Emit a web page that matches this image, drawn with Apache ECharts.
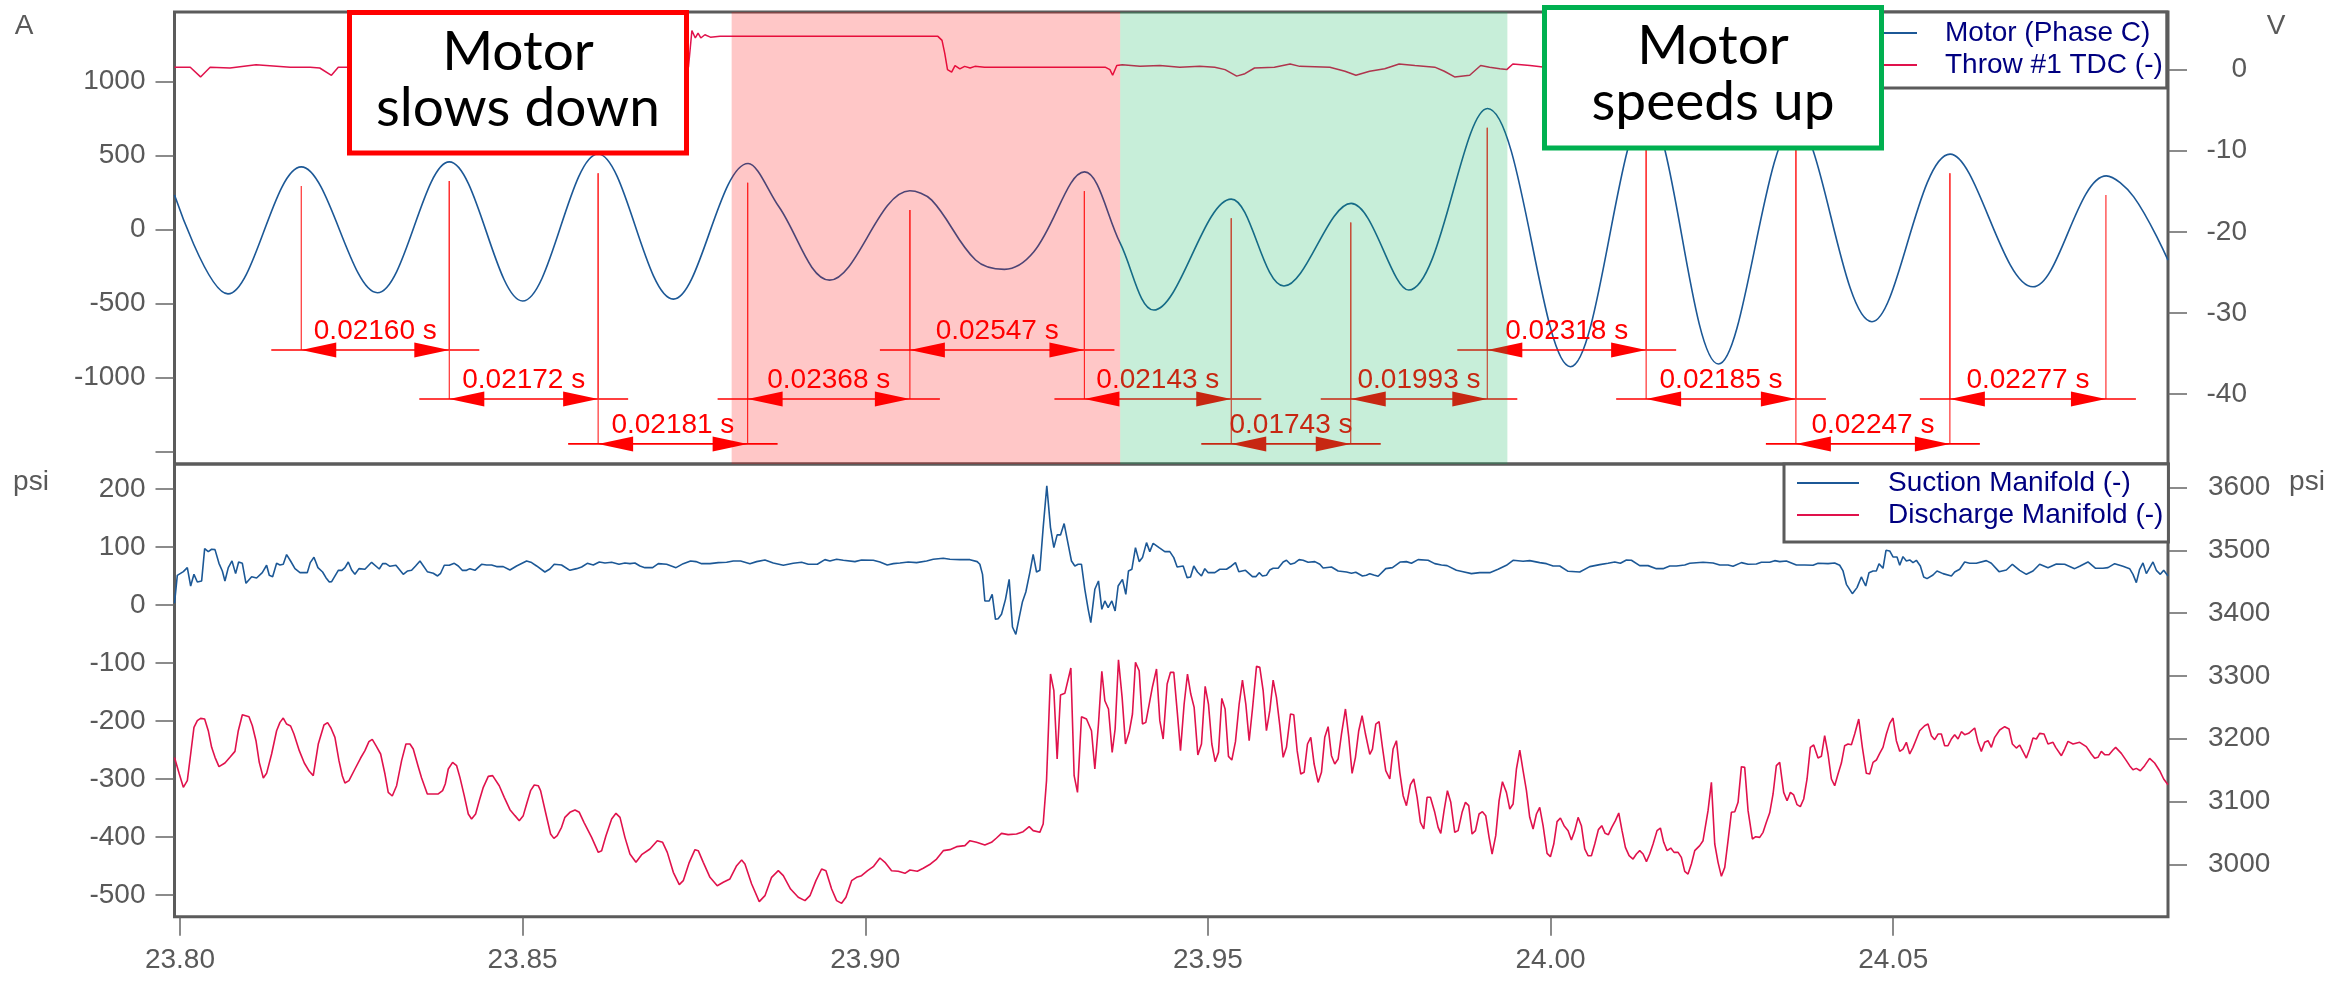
<!DOCTYPE html>
<html>
<head>
<meta charset="utf-8">
<script src="https://cdn.jsdelivr.net/npm/echarts@6/dist/echarts.min.js"></script>
<style>
html,body{margin:0;padding:0;background:#fff;}
#chart{width:2351px;height:983px;}
</style>
</head>
<body>
<div id="chart"></div>
<script>
// ---- time axis ----
const timeRange = [23.7992, 24.0901];
const timeTicks = [23.80, 23.85, 23.90, 23.95, 24.00, 24.05];

// ---- axis ticks ----
const ampTicks = [-1500, -1000, -500, 0, 500, 1000];
const ampLabels = [-1000, -500, 0, 500, 1000];
const voltTicks = [-40, -30, -20, -10, 0];
const suctionTicks = [-500, -400, -300, -200, -100, 0, 100, 200];
const dischargeTicks = [3000, 3100, 3200, 3300, 3400, 3500, 3600];

// ---- motor current, phase C [s, A] ----
const motorCurrent = [
[23.7992,232],[23.8070,-436],[23.8177,423],[23.8288,-428],[23.8393,457],[23.8500,-484],[23.8610,510],[23.8720,-471],
[23.8829,446],[23.8874,153],[23.8948,-343],[23.9065,261],[23.9097,198],[23.9161,-207],[23.9203,-270],[23.9246,-151],
[23.9320,389],[23.9372,-93],[23.9421,-545],[23.9534,205],[23.9611,-383],[23.9709,176],[23.9793,-410],[23.9908,818],
[24.0029,-928],[24.0140,800],[24.0245,-910],[24.0358,720],[24.0469,-624],[24.0583,509],[24.0704,-388],[24.0811,362],
[24.0851,220],[24.0901,-208]
];

// ---- throw #1 TDC signal [s, V] ----
const tdcVolts = [
[23.7992,0.3],[23.8015,0.3],[23.8030,-0.9],[23.8044,0.3],[23.8073,0.2],[23.8111,0.6],[23.8161,0.3],[23.8190,0.3],
[23.8204,0.2],[23.8221,-0.7],[23.8231,0.3],[23.8500,0.3],[23.8742,0.3],[23.8747,4.8],[23.8752,3.9],[23.8756,4.5],
[23.8760,3.9],[23.8766,4.3],[23.8774,4.0],[23.8788,4.1],[23.9106,4.1],[23.9112,3.6],[23.9116,2.0],[23.9120,0.0],
[23.9126,-0.3],[23.9131,0.5],[23.9138,0.1],[23.9145,0.4],[23.9153,0.2],[23.9160,0.4],[23.9174,0.3],[23.9350,0.3],
[23.9357,0.0],[23.9361,-0.7],[23.9367,0.5],[23.9375,0.6],[23.9401,0.4],[23.9430,0.5],[23.9459,0.3],[23.9488,0.4],
[23.9510,0.3],[23.9525,0.0],[23.9542,-0.8],[23.9554,-0.5],[23.9568,0.2],[23.9597,0.3],[23.9620,0.7],[23.9634,0.4],
[23.9678,0.3],[23.9700,-0.2],[23.9716,-0.7],[23.9736,-0.2],[23.9758,0.1],[23.9779,0.7],[23.9802,0.5],[23.9831,0.3],
[23.9845,-0.2],[23.9860,-0.9],[23.9882,-0.7],[23.9898,0.5],[23.9911,0.3],[23.9926,0.1],[23.9936,0.0],[23.9945,0.7],
[23.9970,0.5],[23.9992,0.3],[24.0300,0.3],[24.0600,0.3],[24.0901,0.3]
];

// ---- suction manifold [s, psi] ----
const suctionPsi = [
[23.7992,3],[23.79961,51.2],[23.80049,57.5],[23.80107,64.4],[23.80156,32.8],[23.80204,52.9],[23.80253,39.7],[23.80316,41.5],
[23.8036,97.2],[23.80413,92.0],[23.80462,96.1],[23.80511,95.5],[23.80569,71.9],[23.80618,58.7],[23.80656,41.5],[23.80705,64.4],
[23.80759,75.9],[23.80812,54.1],[23.80856,74.2],[23.8091,71.9],[23.80963,37.4],[23.81046,48.9],[23.81118,46.6],[23.81201,55.8],
[23.81264,68.5],[23.81303,51.2],[23.81352,48.9],[23.8141,71.9],[23.81459,69.0],[23.81507,70.2],[23.81556,86.9],[23.81614,75.9],
[23.81678,62.7],[23.81751,55.8],[23.81858,55.8],[23.81901,73.1],[23.81955,82.3],[23.82013,64.4],[23.82081,56.9],[23.8213,47.2],
[23.82179,39.7],[23.82213,40.3],[23.8231,59.8],[23.82363,59.8],[23.82407,64.4],[23.82456,74.2],[23.82505,60.4],[23.82553,52.9],
[23.82612,62.7],[23.82699,61.6],[23.82796,73.6],[23.82908,62.1],[23.82957,71.3],[23.83005,71.3],[23.83064,66.7],[23.83151,68.5],
[23.83258,52.9],[23.83322,58.7],[23.8338,59.8],[23.83438,67.3],[23.83502,75.9],[23.83609,57.5],[23.83696,54.7],[23.83759,50.1],
[23.83803,54.7],[23.83857,68.5],[23.8393,68.5],[23.84003,71.9],[23.84061,67.3],[23.84119,59.8],[23.84182,59.8],[23.84231,62.7],
[23.84304,59.8],[23.84401,70.2],[23.84474,69.0],[23.84547,69.0],[23.8462,66.2],[23.84717,66.2],[23.84815,60.4],[23.84912,67.3],
[23.85058,75.9],[23.85131,73.1],[23.85204,67.3],[23.85325,56.9],[23.85398,62.1],[23.85461,70.2],[23.85568,69.0],[23.8569,59.8],
[23.85788,62.7],[23.85861,65.6],[23.85944,71.9],[23.86031,69.0],[23.86119,74.2],[23.86202,72.5],[23.86299,73.6],[23.86406,70.2],
[23.86493,72.5],[23.86566,71.3],[23.86639,72.5],[23.86712,67.3],[23.86785,64.4],[23.86897,64.4],[23.8698,71.3],[23.87101,70.2],
[23.87238,64.4],[23.87344,71.3],[23.87451,75.9],[23.87529,74.8],[23.87612,71.3],[23.87734,71.3],[23.87855,73.1],[23.87977,73.6],
[23.88074,75.9],[23.88181,75.9],[23.88317,71.3],[23.88414,74.8],[23.88536,77.7],[23.88658,72.5],[23.88804,68.5],[23.88949,71.9],
[23.89071,73.6],[23.89168,70.2],[23.893,70.2],[23.89411,78.2],[23.89484,75.9],[23.89582,78.8],[23.89679,77.1],[23.89849,74.8],
[23.89946,77.7],[23.90117,77.1],[23.90214,74.2],[23.90321,69.0],[23.90409,71.3],[23.90506,72.5],[23.90627,74.2],[23.90749,73.1],
[23.90895,75.9],[23.90992,78.8],[23.91138,80.5],[23.91235,78.8],[23.91381,78.2],[23.91527,78.2],[23.91633,74.8],[23.91672,70.2],
[23.91711,52.9],[23.91745,7.0],[23.91808,7.0],[23.91852,18.5],[23.919,-24.6],[23.91939,-23.5],[23.91988,-16.0],[23.92046,9.8],
[23.921,44.3],[23.92148,-37.9],[23.92197,-50.5],[23.92246,-21.8],[23.92294,5.8],[23.92343,22.5],[23.92401,55.8],[23.9245,87.4],
[23.92499,56.9],[23.92547,59.8],[23.92596,133.4],[23.92649,205.2],[23.92703,133.4],[23.92752,98.9],[23.928,120.8],[23.92849,120.8],
[23.92902,140.3],[23.92951,110.4],[23.93009,75.9],[23.93058,67.3],[23.93107,70.2],[23.93155,70.2],[23.93204,27.1],[23.93253,-7.4],
[23.93291,-30.4],[23.9335,27.1],[23.93403,41.5],[23.93452,-7.4],[23.93496,7.0],[23.93544,-4.5],[23.93598,7.0],[23.93646,-10.3],
[23.9369,32.8],[23.93753,44.3],[23.93802,18.5],[23.93841,58.7],[23.9389,61.6],[23.93943,98.9],[23.93997,74.8],[23.94045,81.7],
[23.94104,107.5],[23.94152,92.0],[23.94201,106.4],[23.94288,98.9],[23.94371,92.0],[23.94444,92.0],[23.94502,81.7],[23.94551,65.6],
[23.94639,67.3],[23.94697,47.2],[23.94746,48.4],[23.94794,67.3],[23.94848,56.9],[23.94906,50.1],[23.94955,62.7],[23.95004,55.8],
[23.95101,55.8],[23.95174,61.6],[23.95271,61.6],[23.95344,67.3],[23.95402,73.1],[23.95451,57.5],[23.95548,59.8],[23.9565,48.9],
[23.95699,48.9],[23.95748,55.8],[23.95796,50.1],[23.95854,51.2],[23.95903,60.4],[23.95952,63.3],[23.96025,63.3],[23.96098,74.2],
[23.96146,77.1],[23.96205,70.2],[23.96268,72.5],[23.96331,78.2],[23.96389,77.1],[23.96462,73.6],[23.9656,74.8],[23.96633,70.2],
[23.96681,63.9],[23.96803,65.6],[23.969,58.7],[23.97022,56.9],[23.97095,54.7],[23.97158,56.4],[23.97255,50.1],[23.97313,51.2],
[23.97362,54.1],[23.9742,51.8],[23.97484,49.5],[23.97595,62.7],[23.97693,64.4],[23.97809,74.2],[23.97897,74.8],[23.9797,71.9],
[23.98067,78.2],[23.98213,77.1],[23.9831,71.3],[23.98408,69.0],[23.9849,67.9],[23.98626,59.8],[23.98724,57.5],[23.98845,54.1],
[23.98967,55.8],[23.99113,55.8],[23.99234,61.6],[23.99356,68.5],[23.99453,77.1],[23.99599,75.4],[23.99696,76.5],[23.99842,73.1],
[23.9994,71.3],[24.00037,67.3],[24.00134,67.3],[24.00256,58.1],[24.00426,56.9],[24.00572,66.2],[24.00718,69.6],[24.00839,71.9],
[24.00937,74.2],[24.01019,71.9],[24.01107,77.7],[24.0118,77.1],[24.01301,67.9],[24.01423,67.9],[24.01544,62.7],[24.01642,62.7],
[24.01739,67.3],[24.01836,67.3],[24.01958,69.0],[24.02031,71.9],[24.02225,73.6],[24.02371,72.5],[24.02469,69.0],[24.0259,69.0],
[24.02663,66.7],[24.02785,73.1],[24.02882,70.2],[24.03003,70.8],[24.03076,73.6],[24.03198,73.6],[24.03271,76.5],[24.03344,74.8],
[24.03441,75.9],[24.03587,69.0],[24.03709,69.0],[24.0383,68.5],[24.03903,71.9],[24.04049,71.3],[24.04146,72.5],[24.04219,68.5],
[24.04268,58.7],[24.04317,35.7],[24.04404,19.6],[24.04472,30.0],[24.04535,48.4],[24.04599,32.8],[24.04647,55.8],[24.04706,58.7],
[24.04754,58.7],[24.04793,71.3],[24.04851,63.3],[24.04895,94.3],[24.04949,93.2],[24.04997,82.8],[24.05056,82.8],[24.05095,68.5],
[24.05143,83.4],[24.05192,75.9],[24.05241,77.7],[24.05289,73.1],[24.05338,77.1],[24.05396,67.3],[24.05445,48.4],[24.05494,45.5],
[24.05581,51.8],[24.05639,58.7],[24.05727,54.1],[24.05849,50.1],[24.05897,56.9],[24.0597,61.6],[24.06043,74.2],[24.06116,71.9],
[24.06213,71.9],[24.06359,76.5],[24.06432,71.9],[24.06544,57.5],[24.06651,60.4],[24.06739,70.2],[24.06846,59.8],[24.06943,52.9],
[24.0704,58.7],[24.07137,70.2],[24.07259,64.4],[24.07381,70.8],[24.07502,70.2],[24.07648,62.7],[24.07721,66.7],[24.07842,74.2],
[24.07954,63.3],[24.08061,63.3],[24.08134,64.4],[24.08232,71.3],[24.08353,66.7],[24.0845,62.7],[24.08499,52.9],[24.08548,38.6],
[24.08596,61.6],[24.08645,72.5],[24.08694,54.1],[24.08791,74.2],[24.0884,59.8],[24.08898,52.9],[24.08947,59.8],[24.0901,50.1]
];

// ---- discharge manifold [s, psi] ----
const dischargePsi = [
[23.7992,3170.0],[23.7999,3143.8],[23.80049,3122.6],[23.80107,3133.2],[23.80156,3175.7],[23.80204,3218.1],[23.80253,3228.8],[23.80301,3232.5],
[23.8036,3231.4],[23.80413,3212.8],[23.80462,3186.3],[23.80511,3170.4],[23.80569,3155.5],[23.80656,3161.3],[23.80729,3170.4],[23.80802,3179.9],
[23.80851,3212.8],[23.8091,3238.3],[23.81007,3235.1],[23.81056,3220.8],[23.81109,3196.9],[23.81157,3162.4],[23.81216,3137.4],[23.81264,3144.9],
[23.81337,3175.7],[23.8141,3212.8],[23.81459,3226.1],[23.81507,3233.0],[23.81556,3223.4],[23.81614,3220.3],[23.81663,3207.5],[23.81741,3181.0],
[23.81814,3161.3],[23.81887,3148.1],[23.81945,3141.2],[23.82018,3191.6],[23.82101,3221.9],[23.82154,3225.6],[23.82203,3217.1],[23.82261,3202.2],
[23.8232,3165.1],[23.82368,3141.2],[23.82407,3129.5],[23.82466,3133.2],[23.82553,3151.8],[23.82636,3169.3],[23.82699,3181.0],[23.82757,3195.3],
[23.82806,3199.0],[23.8286,3188.9],[23.82928,3175.7],[23.82991,3143.8],[23.83039,3114.6],[23.83098,3108.8],[23.83161,3125.2],[23.83234,3165.1],
[23.83297,3191.6],[23.83356,3191.6],[23.83404,3183.6],[23.83477,3155.5],[23.83526,3137.4],[23.83609,3112.0],[23.83696,3112.0],[23.83769,3112.0],
[23.83832,3117.3],[23.83871,3127.9],[23.83915,3151.8],[23.83978,3162.4],[23.84037,3157.1],[23.84085,3138.5],[23.84148,3109.3],[23.84207,3080.1],
[23.84255,3072.1],[23.84314,3080.1],[23.84367,3101.3],[23.84426,3122.6],[23.84499,3140.1],[23.84562,3141.2],[23.84659,3125.2],[23.84732,3106.7],
[23.84815,3087.0],[23.84888,3077.5],[23.84951,3069.5],[23.85009,3077.5],[23.85058,3096.0],[23.85116,3117.3],[23.8517,3126.3],[23.85228,3125.2],
[23.85262,3117.3],[23.8534,3080.1],[23.85408,3048.2],[23.85456,3041.3],[23.85505,3045.6],[23.85568,3058.9],[23.85617,3074.8],[23.8569,3082.8],
[23.85764,3086.5],[23.85827,3082.8],[23.85895,3066.8],[23.86007,3042.9],[23.86104,3019.0],[23.86153,3021.7],[23.86216,3045.6],[23.86299,3072.1],
[23.86362,3081.2],[23.86421,3074.8],[23.86493,3042.9],[23.86566,3016.4],[23.86654,3003.1],[23.86737,3015.3],[23.86858,3024.4],[23.86965,3037.6],
[23.87043,3035.0],[23.87111,3019.0],[23.87199,2987.2],[23.87286,2967.5],[23.87344,2973.9],[23.87432,3003.1],[23.87515,3023.3],[23.87563,3021.7],
[23.87636,3003.1],[23.87734,2979.2],[23.8784,2965.9],[23.87928,2971.3],[23.88025,2976.6],[23.88123,2997.8],[23.88196,3006.8],[23.88244,3000.5],
[23.88342,2968.6],[23.88453,2940.5],[23.88536,2950.0],[23.88633,2979.2],[23.88731,2989.8],[23.88804,2981.9],[23.8891,2960.6],[23.89022,2947.4],
[23.8912,2942.1],[23.89193,2950.0],[23.8928,2973.9],[23.89363,2992.5],[23.89426,2989.8],[23.89509,2960.6],[23.89582,2942.1],[23.89655,2937.8],
[23.89718,2947.4],[23.89801,2973.9],[23.89873,2979.2],[23.89946,2981.9],[23.90034,2989.8],[23.90117,2996.2],[23.90214,3010.0],[23.90287,3003.1],
[23.90384,2989.8],[23.90481,2988.8],[23.90579,2985.6],[23.90652,2990.9],[23.90759,2988.8],[23.90846,2993.6],[23.90953,3000.5],[23.91041,3008.4],
[23.91138,3021.7],[23.91235,3023.3],[23.91333,3028.1],[23.91454,3029.7],[23.91527,3037.6],[23.91623,3035.0],[23.91745,3030.7],[23.91842,3035.0],
[23.91915,3041.9],[23.91988,3049.3],[23.92085,3047.2],[23.92207,3048.2],[23.92304,3052.0],[23.92392,3059.9],[23.9245,3053.6],[23.92547,3050.9],
[23.92596,3064.2],[23.92645,3133.2],[23.92703,3303.1],[23.92752,3276.6],[23.928,3167.7],[23.92849,3269.7],[23.92912,3272.3],[23.93,3312.7],
[23.93048,3141.2],[23.93097,3114.6],[23.93155,3235.1],[23.93228,3231.4],[23.93301,3212.8],[23.9335,3151.8],[23.93403,3223.4],[23.93452,3307.4],
[23.93496,3260.6],[23.93549,3247.4],[23.93603,3178.3],[23.93646,3215.5],[23.93695,3325.9],[23.93748,3265.9],[23.93797,3191.6],[23.93851,3210.2],
[23.93899,3239.4],[23.93943,3321.7],[23.93997,3308.4],[23.94045,3223.4],[23.94094,3226.1],[23.94191,3282.9],[23.9425,3311.1],[23.94298,3228.8],
[23.94347,3199.6],[23.94405,3287.2],[23.94454,3305.8],[23.94502,3305.8],[23.94551,3244.7],[23.946,3181.0],[23.94653,3255.3],[23.94702,3303.1],
[23.9475,3271.2],[23.94799,3250.0],[23.94853,3174.1],[23.94906,3191.6],[23.9496,3283.5],[23.95008,3255.3],[23.95057,3191.6],[23.95106,3163.5],
[23.95154,3178.3],[23.95203,3264.3],[23.95251,3247.4],[23.953,3171.9],[23.95349,3166.1],[23.95402,3195.3],[23.95456,3255.3],[23.95504,3293.5],
[23.95553,3255.3],[23.95602,3196.9],[23.9565,3247.4],[23.95709,3315.3],[23.95757,3313.7],[23.95806,3276.6],[23.95854,3212.8],[23.95903,3244.7],
[23.95952,3293.5],[23.96,3265.9],[23.96049,3220.8],[23.96098,3170.4],[23.96146,3186.3],[23.96205,3239.4],[23.96253,3238.3],[23.96302,3181.0],
[23.96355,3143.8],[23.96404,3146.5],[23.96453,3191.6],[23.96501,3202.2],[23.9655,3159.7],[23.96608,3130.5],[23.96657,3146.5],[23.96705,3202.2],
[23.96754,3219.2],[23.96803,3173.0],[23.96851,3159.7],[23.969,3167.7],[23.96949,3207.5],[23.97007,3247.4],[23.97056,3202.2],[23.97104,3144.9],
[23.97153,3170.4],[23.97201,3212.8],[23.9725,3236.7],[23.97299,3207.5],[23.97362,3175.0],[23.97401,3183.6],[23.9745,3223.4],[23.97498,3227.2],
[23.97547,3186.3],[23.97595,3149.1],[23.97654,3135.9],[23.97702,3183.6],[23.97751,3196.9],[23.978,3146.5],[23.97849,3109.3],[23.97897,3093.4],
[23.97955,3126.8],[23.98004,3135.9],[23.98053,3106.7],[23.98101,3066.8],[23.9815,3056.2],[23.98198,3106.7],[23.98247,3106.7],[23.9831,3082.8],
[23.98359,3058.9],[23.98398,3049.3],[23.98446,3085.4],[23.98495,3117.3],[23.98544,3098.7],[23.98602,3050.9],[23.98651,3053.6],[23.98709,3082.8],
[23.98758,3098.7],[23.98806,3093.4],[23.98855,3048.2],[23.98904,3053.6],[23.98957,3080.1],[23.99006,3083.8],[23.99054,3077.5],[23.99103,3042.9],
[23.99147,3016.4],[23.992,3045.6],[23.99249,3101.3],[23.99298,3131.6],[23.99356,3114.6],[23.99405,3088.1],[23.99453,3096.0],[23.99502,3151.8],
[23.99551,3182.0],[23.99599,3149.1],[23.99648,3117.3],[23.99696,3074.8],[23.99745,3056.2],[23.99794,3080.1],[23.99842,3090.7],[23.99891,3061.5],
[23.99949,3017.4],[23.99998,3012.1],[24.00047,3032.3],[24.00095,3067.9],[24.00144,3073.7],[24.00197,3061.5],[24.00256,3053.6],[24.00304,3038.7],
[24.00353,3053.6],[24.00402,3074.8],[24.0045,3061.5],[24.00499,3024.4],[24.00547,3013.7],[24.00596,3013.7],[24.00645,3032.3],[24.00698,3055.2],
[24.00747,3061.5],[24.00796,3049.3],[24.00844,3047.2],[24.00893,3058.9],[24.00946,3069.5],[24.00995,3081.7],[24.01043,3053.6],[24.01092,3027.0],
[24.01146,3013.7],[24.01204,3008.4],[24.01253,3016.4],[24.01301,3021.7],[24.0135,3016.4],[24.01399,3004.2],[24.01447,3016.4],[24.01496,3032.3],
[24.01554,3053.6],[24.01603,3057.8],[24.01651,3035.0],[24.017,3021.7],[24.01754,3025.9],[24.01802,3019.0],[24.01861,3019.0],[24.01909,3011.1],
[24.01958,2988.8],[24.02006,2984.5],[24.02055,3000.5],[24.02104,3021.7],[24.02177,3029.7],[24.02225,3037.6],[24.0225,3038.7],[24.02298,3085.4],
[24.02347,3130.5],[24.02396,3032.3],[24.02444,3003.1],[24.02493,2980.8],[24.02542,2995.1],[24.0259,3037.6],[24.02639,3082.8],[24.02688,3083.8],
[24.02736,3098.7],[24.02785,3155.5],[24.02833,3154.4],[24.02882,3085.4],[24.02945,3040.3],[24.02994,3044.0],[24.03052,3042.9],[24.03101,3050.9],
[24.03149,3066.8],[24.03198,3082.0],[24.03247,3112.0],[24.03295,3157.1],[24.03344,3162.4],[24.03402,3114.6],[24.03451,3101.3],[24.035,3114.6],
[24.03548,3110.4],[24.03597,3095.0],[24.03645,3091.8],[24.03694,3104.0],[24.03743,3135.9],[24.03791,3186.3],[24.0384,3190.0],[24.03903,3169.3],
[24.03952,3172.0],[24.04,3204.9],[24.04049,3175.7],[24.04098,3135.9],[24.04146,3125.2],[24.04195,3143.8],[24.04244,3161.3],[24.04292,3188.9],
[24.04341,3191.6],[24.0439,3190.5],[24.04438,3207.5],[24.04497,3231.4],[24.0455,3186.3],[24.04608,3144.9],[24.04657,3143.8],[24.04706,3162.4],
[24.04754,3166.1],[24.04803,3176.7],[24.04851,3186.3],[24.049,3207.5],[24.04949,3224.5],[24.04997,3233.0],[24.05046,3196.9],[24.05095,3179.9],
[24.05143,3183.6],[24.05192,3194.3],[24.05241,3175.7],[24.05289,3186.3],[24.05338,3199.6],[24.05386,3212.8],[24.05459,3220.8],[24.05508,3223.4],
[24.05557,3204.9],[24.05605,3198.5],[24.05654,3207.5],[24.05703,3207.5],[24.05751,3188.9],[24.058,3188.9],[24.05849,3199.6],[24.05897,3206.5],
[24.05946,3199.6],[24.05995,3211.2],[24.06043,3206.5],[24.06101,3208.6],[24.06189,3217.1],[24.06238,3194.3],[24.06286,3179.9],[24.06335,3194.3],
[24.06384,3196.9],[24.06432,3186.3],[24.06481,3202.2],[24.06554,3213.9],[24.06627,3219.2],[24.0669,3215.5],[24.06739,3191.6],[24.06797,3185.2],
[24.06846,3190.0],[24.06943,3169.3],[24.06992,3183.6],[24.0704,3201.2],[24.07089,3199.6],[24.07137,3208.6],[24.07201,3207.5],[24.07259,3191.6],
[24.07332,3194.3],[24.07371,3186.3],[24.07454,3173.0],[24.07502,3183.6],[24.07551,3195.8],[24.07624,3191.6],[24.07721,3194.3],[24.07818,3187.4],
[24.07891,3175.7],[24.0794,3168.8],[24.07988,3170.4],[24.08037,3179.9],[24.08086,3174.6],[24.08149,3174.6],[24.08207,3182.0],[24.08246,3186.3],
[24.08329,3176.7],[24.08402,3165.1],[24.0845,3157.1],[24.08499,3150.7],[24.08548,3152.8],[24.08606,3149.1],[24.08669,3157.1],[24.08742,3168.8],
[24.08815,3161.3],[24.08888,3149.1],[24.08947,3135.9],[24.0901,3126.8]
];

// ---- measured periods between current peaks ----
const firstPeakTime = 23.8177;
const periodSeconds = [0.02160, 0.02172, 0.02181, 0.02368, 0.02547, 0.02143, 0.01743, 0.01993, 0.02318, 0.02185, 0.02247, 0.02277];
const periodRow = [0, 1, 2, 1, 0, 1, 2, 1, 0, 1, 2, 1];

// ---- shaded phases ----
const slowDownSpan = [23.8805, 23.9372];
const speedUpSpan = [23.9372, 23.9937];

// layout constants for the period dimension lines (in amps on the current axis)
const ROW_LEVEL = [-815, -1147, -1450];
const DROP_BELOW_PEAK = 130;

const FONT = '"Liberation Sans", Arial, Helvetica, sans-serif';
const AXIS_GREY = '#595959';
const FRAME = '#5b5b5b';
const TICK = '#666666';
const BLUE = '#1c5896';
const CRIMSON = '#e0124c';
const NAVY = '#000080';
const RED = '#ff0000';

const peakTimes = [firstPeakTime];
periodSeconds.forEach(p => peakTimes.push(peakTimes[peakTimes.length - 1] + p));

function peakAmp(t) {
  let best = -Infinity;
  motorCurrent.forEach(p => { if (Math.abs(p[0] - t) < 0.003 && p[1] > best) best = p[1]; });
  return best;
}

const periodData = periodSeconds.map((p, i) => [peakTimes[i], peakTimes[i + 1], ROW_LEVEL[periodRow[i]], i]);

function renderPeriod(params, api) {
  const i = api.value(3);
  const t0 = api.value(0), t1 = api.value(1), lvl = api.value(2);
  const a = api.coord([t0, lvl]);
  const b = api.coord([t1, lvl]);
  const ta = api.coord([t0, peakAmp(t0) - DROP_BELOW_PEAK]);
  const tb = api.coord([t1, peakAmp(t1) - DROP_BELOW_PEAK]);
  const y = a[1];
  const head = 35, half = 7.5;
  return {
    type: 'group',
    children: [
      { type: 'line', shape: { x1: a[0], y1: ta[1], x2: a[0], y2: y }, style: { stroke: '#ff3030', lineWidth: 1.2 } },
      { type: 'line', shape: { x1: b[0], y1: tb[1], x2: b[0], y2: y }, style: { stroke: '#ff3030', lineWidth: 1.2 } },
      { type: 'line', shape: { x1: a[0] - 30, y1: y, x2: b[0] + 30, y2: y }, style: { stroke: RED, lineWidth: 1.6 } },
      { type: 'polygon', shape: { points: [[a[0], y], [a[0] + head, y - half], [a[0] + head, y + half]] }, style: { fill: RED } },
      { type: 'polygon', shape: { points: [[b[0], y], [b[0] - head, y - half], [b[0] - head, y + half]] }, style: { fill: RED } },
      { type: 'text', style: { text: periodSeconds[i].toFixed(5) + ' s', x: (a[0] + b[0]) / 2, y: y - 19,
        textAlign: 'center', textVerticalAlign: 'middle', align: 'center', verticalAlign: 'middle',
        fill: RED, fontSize: 28, fontFamily: FONT } }
    ]
  };
}

const plain = v => String(v);

function tickAxis(extra) {
  return Object.assign({
    type: 'value',
    axisLine: { show: false, onZero: false },
    splitLine: { show: false }
  }, extra);
}

function ticks(values, len) {
  return { show: true, length: len, customValues: values, lineStyle: { color: TICK, width: 1.5 } };
}

function calloutBox(x, y, color, line1, line2, y1, y2) {
  const cx = x + 168.5;
  return [
    { type: 'rect', z: 100, shape: { x: x, y: y, width: 337, height: 140.5 },
      style: { fill: '#ffffff', stroke: color, lineWidth: 5 } },
    { type: 'text', z: 101, style: { text: line1, x: cx, y: y1, textAlign: 'center', textVerticalAlign: 'middle',
      align: 'center', verticalAlign: 'middle', fill: '#000', fontSize: 55, fontFamily: 'Lato, "Open Sans", sans-serif' } },
    { type: 'text', z: 101, style: { text: line2, x: cx, y: y2, textAlign: 'center', textVerticalAlign: 'middle',
      align: 'center', verticalAlign: 'middle', fill: '#000', fontSize: 55, fontFamily: 'Lato, "Open Sans", sans-serif' } }
  ];
}

function unitLabel(text, x, y) {
  return { type: 'text', z: 50, style: { text: text, x: x, y: y, textAlign: 'center', textVerticalAlign: 'middle',
    align: 'center', verticalAlign: 'middle', fill: AXIS_GREY, fontSize: 28, fontFamily: FONT } };
}

const chart = echarts.init(document.getElementById('chart'), null, { renderer: 'canvas', width: 2351, height: 983 });

const option = {
  animation: false,
  backgroundColor: '#ffffff',
  textStyle: { fontFamily: FONT },
  grid: [
    { left: 174.5, right: 183, top: 12, height: 452, show: true, borderColor: FRAME, borderWidth: 3, containLabel: false, outerBoundsMode: 'none' },
    { left: 174.5, right: 183, top: 464, height: 452.7, show: true, borderColor: FRAME, borderWidth: 3, containLabel: false, outerBoundsMode: 'none' }
  ],
  xAxis: [
    { gridIndex: 0, type: 'value', min: timeRange[0], max: timeRange[1], show: false },
    tickAxis({ gridIndex: 1, min: timeRange[0], max: timeRange[1], position: 'bottom',
      axisTick: ticks(timeTicks, 19),
      axisLabel: { customValues: timeTicks, formatter: v => v.toFixed(2), color: AXIS_GREY, fontSize: 28, fontFamily: FONT, margin: 30 } })
  ],
  yAxis: [
    tickAxis({ gridIndex: 0, position: 'left', min: -1586, max: 1470,
      axisTick: ticks(ampTicks, 19),
      axisLabel: { customValues: ampLabels, formatter: plain, color: AXIS_GREY, fontSize: 28, fontFamily: FONT, margin: 29 } }),
    tickAxis({ gridIndex: 0, position: 'right', min: -48.6, max: 7.1,
      axisTick: ticks(voltTicks, 19),
      axisLabel: { customValues: voltTicks, formatter: plain, color: AXIS_GREY, fontSize: 28, fontFamily: FONT, margin: 79, align: 'right' } }),
    tickAxis({ gridIndex: 1, position: 'left', min: -537, max: 243,
      axisTick: ticks(suctionTicks, 19),
      axisLabel: { customValues: suctionTicks, formatter: plain, color: AXIS_GREY, fontSize: 28, fontFamily: FONT, margin: 29 } }),
    tickAxis({ gridIndex: 1, position: 'right', min: 2916.5, max: 3637.7,
      axisTick: ticks(dischargeTicks, 19),
      axisLabel: { customValues: dischargeTicks, formatter: plain, color: AXIS_GREY, fontSize: 28, fontFamily: FONT, margin: 40 } })
  ],
  legend: [
    { data: ['Motor (Phase C)', 'Throw #1 TDC (-)'], orient: 'vertical', left: 1845, top: 12,
      padding: [5, 4, 7, 10], itemGap: 0, itemWidth: 62, itemHeight: 2, icon: 'rect',
      backgroundColor: '#ffffff', borderColor: FRAME, borderWidth: 3, borderRadius: 0, selectedMode: false,
      textStyle: { color: NAVY, fontSize: 28, lineHeight: 32, fontFamily: FONT, padding: [0, 0, 0, 23] } },
    { data: ['Suction Manifold (-)', 'Discharge Manifold (-)'], orient: 'vertical', left: 1784, top: 464,
      padding: [3, 5, 11, 13], itemGap: 0, itemWidth: 62, itemHeight: 2, icon: 'rect',
      backgroundColor: '#ffffff', borderColor: FRAME, borderWidth: 3, borderRadius: 0, selectedMode: false,
      textStyle: { color: NAVY, fontSize: 28, lineHeight: 32, fontFamily: FONT, padding: [0, 0, 0, 24] } }
  ],
  series: [
    { name: 'Motor (Phase C)', type: 'line', xAxisIndex: 0, yAxisIndex: 0, data: motorCurrent,
      symbol: 'none', smooth: 0.36, lineStyle: { color: BLUE, width: 1.6 }, itemStyle: { color: BLUE }, z: 2, silent: true },
    { name: 'Throw #1 TDC (-)', type: 'line', xAxisIndex: 0, yAxisIndex: 1, data: tdcVolts,
      symbol: 'none', lineStyle: { color: CRIMSON, width: 1.5 }, itemStyle: { color: CRIMSON }, z: 2, silent: true },
    { type: 'custom', xAxisIndex: 0, yAxisIndex: 0, data: periodData, renderItem: renderPeriod,
      encode: { x: [0, 1], y: 2 }, z: 3, silent: true, clip: false },
    { type: 'line', xAxisIndex: 0, yAxisIndex: 0, data: [], z: 10, silent: true,
      markArea: { silent: true, z: 10,
        data: [
          [{ xAxis: slowDownSpan[0], itemStyle: { color: '#ff0000', opacity: 0.22 } }, { xAxis: slowDownSpan[1] }],
          [{ xAxis: speedUpSpan[0], itemStyle: { color: '#00b050', opacity: 0.22 } }, { xAxis: speedUpSpan[1] }]
        ] } },
    { name: 'Suction Manifold (-)', type: 'line', xAxisIndex: 1, yAxisIndex: 2, data: suctionPsi,
      symbol: 'none', lineStyle: { color: BLUE, width: 1.6 }, itemStyle: { color: BLUE }, z: 2, silent: true },
    { name: 'Discharge Manifold (-)', type: 'line', xAxisIndex: 1, yAxisIndex: 3, data: dischargePsi,
      symbol: 'none', lineStyle: { color: CRIMSON, width: 1.6 }, itemStyle: { color: CRIMSON }, z: 2, silent: true }
  ],
  graphic: [
    unitLabel('A', 24, 26),
    unitLabel('V', 2276, 26),
    unitLabel('psi', 31, 482),
    unitLabel('psi', 2307, 482)
  ].concat(
    calloutBox(349.5, 12.5, '#ff0000', 'Motor', 'slows down', 52, 108),
    calloutBox(1544.5, 7.5, '#00b050', 'Motor', 'speeds up', 46, 102)
  )
};

chart.setOption(option);
</script>
</body>
</html>
